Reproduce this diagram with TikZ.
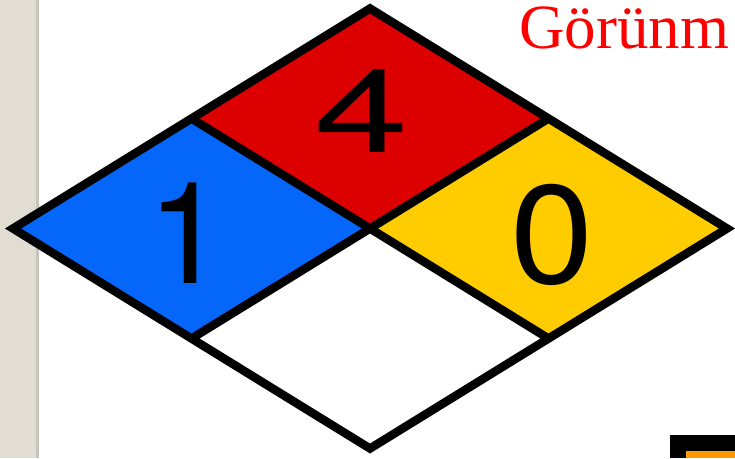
\documentclass[tikz,border=0pt]{standalone}
\usepackage{fontspec}
\setmainfont{Liberation Serif}
\newfontfamily\arialf{TeX Gyre Heros}
\usetikzlibrary{calc}
\definecolor{stripbeige}{RGB}{226,221,211}
\definecolor{stripedge}{RGB}{200,196,188}
\definecolor{nfpablue}{RGB}{5,102,250}
\definecolor{nfpared}{RGB}{220,0,0}
\definecolor{nfpayellow}{RGB}{255,204,0}
\definecolor{boxorange}{RGB}{255,153,0}
\tikzset{
  outline/.style={draw=black, line width=8.5pt, line join=miter},
  digit/.style={anchor=base, inner sep=0pt, text=black},
}
\begin{document}
\begin{tikzpicture}[x=1pt,y=-1pt]
\useasboundingbox (0,0) rectangle (735,458);
\clip (0,0) rectangle (735,458);
\fill[white] (0,0) rectangle (735,458);
\fill[stripbeige] (0,0) rectangle (36,458);
\fill[stripedge] (36,0) rectangle (38.5,458);
% diamond corners
\coordinate (T) at (370,8.5);
\coordinate (L) at (13,228.5);
\coordinate (R) at (727,228.5);
\coordinate (B) at (370,448.5);
\coordinate (C) at (370,228.5);
\coordinate (TL) at ($(T)!0.5!(L)$);
\coordinate (TR) at ($(T)!0.5!(R)$);
\coordinate (BL) at ($(B)!0.5!(L)$);
\coordinate (BR) at ($(B)!0.5!(R)$);
% quadrants
\fill[nfpared] (T) -- (TR) -- (C) -- (TL) -- cycle;
\fill[nfpablue] (L) -- (TL) -- (C) -- (BL) -- cycle;
\fill[nfpayellow] (R) -- (TR) -- (C) -- (BR) -- cycle;
\fill[white] (B) -- (BL) -- (C) -- (BR) -- cycle;
\draw[outline] (T) -- (R) -- (B) -- (L) -- cycle;
\draw[outline] (TL) -- (BR);
\draw[outline] (TR) -- (BL);
% digits
\node[digit, font={\arialf\fontsize{117}{117}\selectfont}] (health) at (361.5,152) {\scalebox{1.45}[1]{4}};
\node[digit, font={\arialf\fontsize{142}{142}\selectfont}] (fire) at (187,283) {1};
\node[digit, font={\arialf\fontsize{140}{140}\selectfont}] (react) at (552.5,283) {\scalebox{1.07}[1]{0}};
% title
\node[anchor=base west, inner sep=0pt, text=red, font={\fontsize{63}{63}\selectfont}] (title) at (519,48) {Görünm};
% corner box
\fill[black] (670,435) rectangle (735,458);
\fill[boxorange] (686,451) rectangle (735,458);
\end{tikzpicture}
\end{document}
